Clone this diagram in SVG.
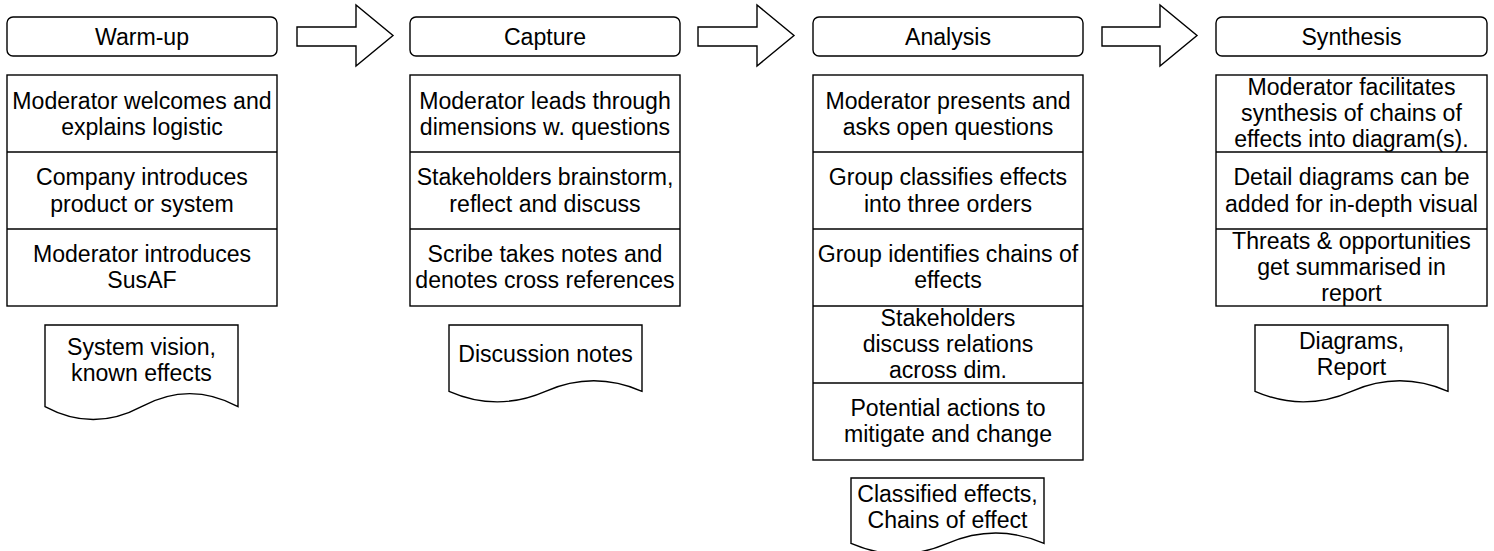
<svg xmlns="http://www.w3.org/2000/svg" width="1494" height="551" viewBox="0 0 1494 551">
<style>
.s{fill:#fff;stroke:#000;stroke-width:1.4}
.l{stroke:#000;stroke-width:1.4;fill:none}
text{font-family:"Liberation Sans",Arial,Helvetica,sans-serif;font-size:23.1px;fill:#000;text-anchor:middle}
</style>
<rect width="1494" height="551" fill="#fff"/>
<g id="connectors">
<polygon class="s" points="297,27 356,27 356,5 393,35.5 356,66 356,46 297,46"/>
<polygon class="s" points="698,27 757,27 757,5 794,35.5 757,66 757,46 698,46"/>
<polygon class="s" points="1102,27 1160,27 1160,5 1197,35.5 1160,66 1160,46 1102,46"/>
</g>
<g id="warmup">
<rect class="s" x="7" y="17" width="270" height="39" rx="6"/>
<text x="142" y="45">Warm-up</text>
</g>
<g id="warmup-steps">
<rect class="s" x="7" y="75" width="270" height="231"/>
<line class="l" x1="7" y1="152" x2="277" y2="152"/>
<line class="l" x1="7" y1="229" x2="277" y2="229"/>
<text x="142" y="109">Moderator welcomes and</text>
<text x="142" y="135">explains logistic</text>
<text x="142" y="185">Company introduces</text>
<text x="142" y="212">product or system</text>
<text x="142" y="262">Moderator introduces</text>
<text x="142" y="288">SusAF</text>
</g>
<g id="warmup-doc">
<path class="s" d="M45,325 L238,325 L238,406.6 Q189.75,380.7 141.5,406.6 Q93.25,432.5 45,406.6 Z"/>
<text x="141.5" y="355">System vision,</text>
<text x="141.5" y="381">known effects</text>
</g>
<g id="capture">
<rect class="s" x="410" y="17" width="270" height="39" rx="6"/>
<text x="545" y="45">Capture</text>
</g>
<g id="capture-steps">
<rect class="s" x="410" y="75" width="270" height="231"/>
<line class="l" x1="410" y1="152" x2="680" y2="152"/>
<line class="l" x1="410" y1="229" x2="680" y2="229"/>
<text x="545" y="109">Moderator leads through</text>
<text x="545" y="135">dimensions w. questions</text>
<text x="545" y="185">Stakeholders brainstorm,</text>
<text x="545" y="212">reflect and discuss</text>
<text x="545" y="262">Scribe takes notes and</text>
<text x="545" y="288">denotes cross references</text>
</g>
<g id="capture-doc">
<path class="s" d="M449,325 L642,325 L642,391.3 Q593.75,370.2 545.5,391.3 Q497.25,412.4 449,391.3 Z"/>
<text x="545.5" y="362">Discussion notes</text>
</g>
<g id="analysis">
<rect class="s" x="813" y="17" width="270" height="39" rx="6"/>
<text x="948" y="45">Analysis</text>
</g>
<g id="analysis-steps">
<rect class="s" x="813" y="75" width="270" height="385"/>
<line class="l" x1="813" y1="152" x2="1083" y2="152"/>
<line class="l" x1="813" y1="229" x2="1083" y2="229"/>
<line class="l" x1="813" y1="306" x2="1083" y2="306"/>
<line class="l" x1="813" y1="383" x2="1083" y2="383"/>
<text x="948" y="109">Moderator presents and</text>
<text x="948" y="135">asks open questions</text>
<text x="948" y="185">Group classifies effects</text>
<text x="948" y="212">into three orders</text>
<text x="948" y="262">Group identifies chains of</text>
<text x="948" y="288">effects</text>
<text x="948" y="326">Stakeholders</text>
<text x="948" y="352">discuss relations</text>
<text x="948" y="378">across dim.</text>
<text x="948" y="416">Potential actions to</text>
<text x="948" y="442">mitigate and change</text>
</g>
<g id="analysis-doc">
<path class="s" d="M851,478 L1044,478 L1044,543.45 Q995.75,522.7 947.5,543.45 Q899.25,564.2 851,543.45 Z"/>
<text x="947.5" y="502">Classified effects,</text>
<text x="947.5" y="528">Chains of effect</text>
</g>
<g id="synthesis">
<rect class="s" x="1216" y="17" width="271" height="39" rx="6"/>
<text x="1351.5" y="45">Synthesis</text>
</g>
<g id="synthesis-steps">
<rect class="s" x="1216" y="75" width="271" height="231"/>
<line class="l" x1="1216" y1="152" x2="1487" y2="152"/>
<line class="l" x1="1216" y1="229" x2="1487" y2="229"/>
<text x="1351.5" y="95">Moderator facilitates</text>
<text x="1351.5" y="121">synthesis of chains of</text>
<text x="1351.5" y="147">effects into diagram(s).</text>
<text x="1351.5" y="185">Detail diagrams can be</text>
<text x="1351.5" y="212">added for in-depth visual</text>
<text x="1351.5" y="249">Threats &amp; opportunities</text>
<text x="1351.5" y="275">get summarised in</text>
<text x="1351.5" y="301">report</text>
</g>
<g id="synthesis-doc">
<path class="s" d="M1255,325 L1448,325 L1448,391.3 Q1399.75,370.2 1351.5,391.3 Q1303.25,412.4 1255,391.3 Z"/>
<text x="1351.5" y="349">Diagrams,</text>
<text x="1351.5" y="375">Report</text>
</g>
</svg>
